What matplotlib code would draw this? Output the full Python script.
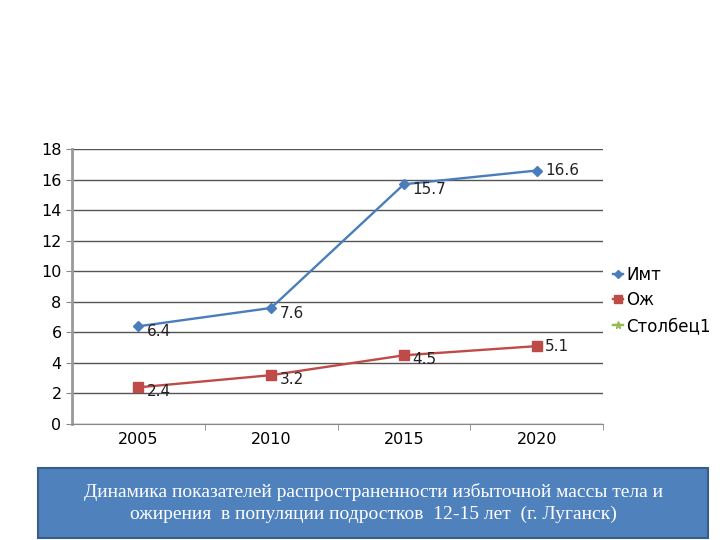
import matplotlib.pyplot as plt
from matplotlib.patches import FancyBboxPatch

years = ['2005', '2010', '2015', '2020']
imt = [6.4, 7.6, 15.7, 16.6]
ozh = [2.4, 3.2, 4.5, 5.1]
stolbec1 = []
series_names = ['Имт', 'Ож', 'Столбец1']
caption = ('Динамика показателей распространенности избыточной массы тела и\n'
           'ожирения  в популяции подростков  12-15 лет  (г. Луганск)')

fig = plt.figure(figsize=(7.2, 5.4), dpi=100)
ax = fig.add_axes([0.1, 0.2148, 0.7375, 0.509])

x = list(range(len(years)))
ax.plot(x, imt, color='#4A7EBB', lw=1.7, marker='D', ms=5, label=series_names[0], zorder=3)
ax.plot(x, ozh, color='#BE4B48', lw=1.7, marker='s', ms=7, label=series_names[1], zorder=3)
ax.plot(stolbec1, stolbec1, color='#98B954', lw=1.7, marker='*', ms=6, label=series_names[2])

for xi, v in zip(x, imt):
    ax.annotate(f'{v}', (xi, v), xytext=(6, -4 if v < 16 else 0), textcoords='offset points',
                fontsize=11, va='center', ha='left', color='#222222')
for xi, v in zip(x, ozh):
    ax.annotate(f'{v}', (xi, v), xytext=(6, -3 if v < 5 else 0), textcoords='offset points',
                fontsize=11, va='center', ha='left', color='#222222')

ax.set_xlim(-0.5, 3.5)
ax.set_ylim(0, 18)
ax.set_yticks(range(0, 19, 2))
ax.set_xticks(x)
ax.set_xticklabels(years)
ax.set_xticks([0.5, 1.5, 2.5, 3.5], minor=True)
ax.tick_params(axis='x', which='major', length=0, labelsize=11.5, pad=6)
ax.tick_params(axis='x', which='minor', length=4, color='#888888')
ax.tick_params(axis='y', length=4, color='#888888', labelsize=11.5)
ax.grid(axis='y', color='#555555', lw=1)
ax.set_axisbelow(True)
for s in ['top', 'right']:
    ax.spines[s].set_visible(False)
ax.spines['left'].set_color('#999999')
ax.spines['left'].set_linewidth(2)
ax.spines['bottom'].set_color('#888888')

ax.legend(loc='center left', bbox_to_anchor=(0.99, 0.45), frameon=False, fontsize=12,
          handlelength=0.6, handletextpad=0.2, labelspacing=0.45, markerscale=0.9)

box = FancyBboxPatch((38 / 720, 2 / 540), 670 / 720, 70 / 540, boxstyle='square,pad=0',
                     transform=fig.transFigure, facecolor='#4F81BD', edgecolor='#385D8A', lw=1.5)
fig.patches.append(box)
fig.text(373 / 720, 37 / 540, caption, ha='center', va='center', color='white',
         fontsize=14, family='Liberation Serif', linespacing=1.3)

fig.savefig('out.png', dpi=100)
